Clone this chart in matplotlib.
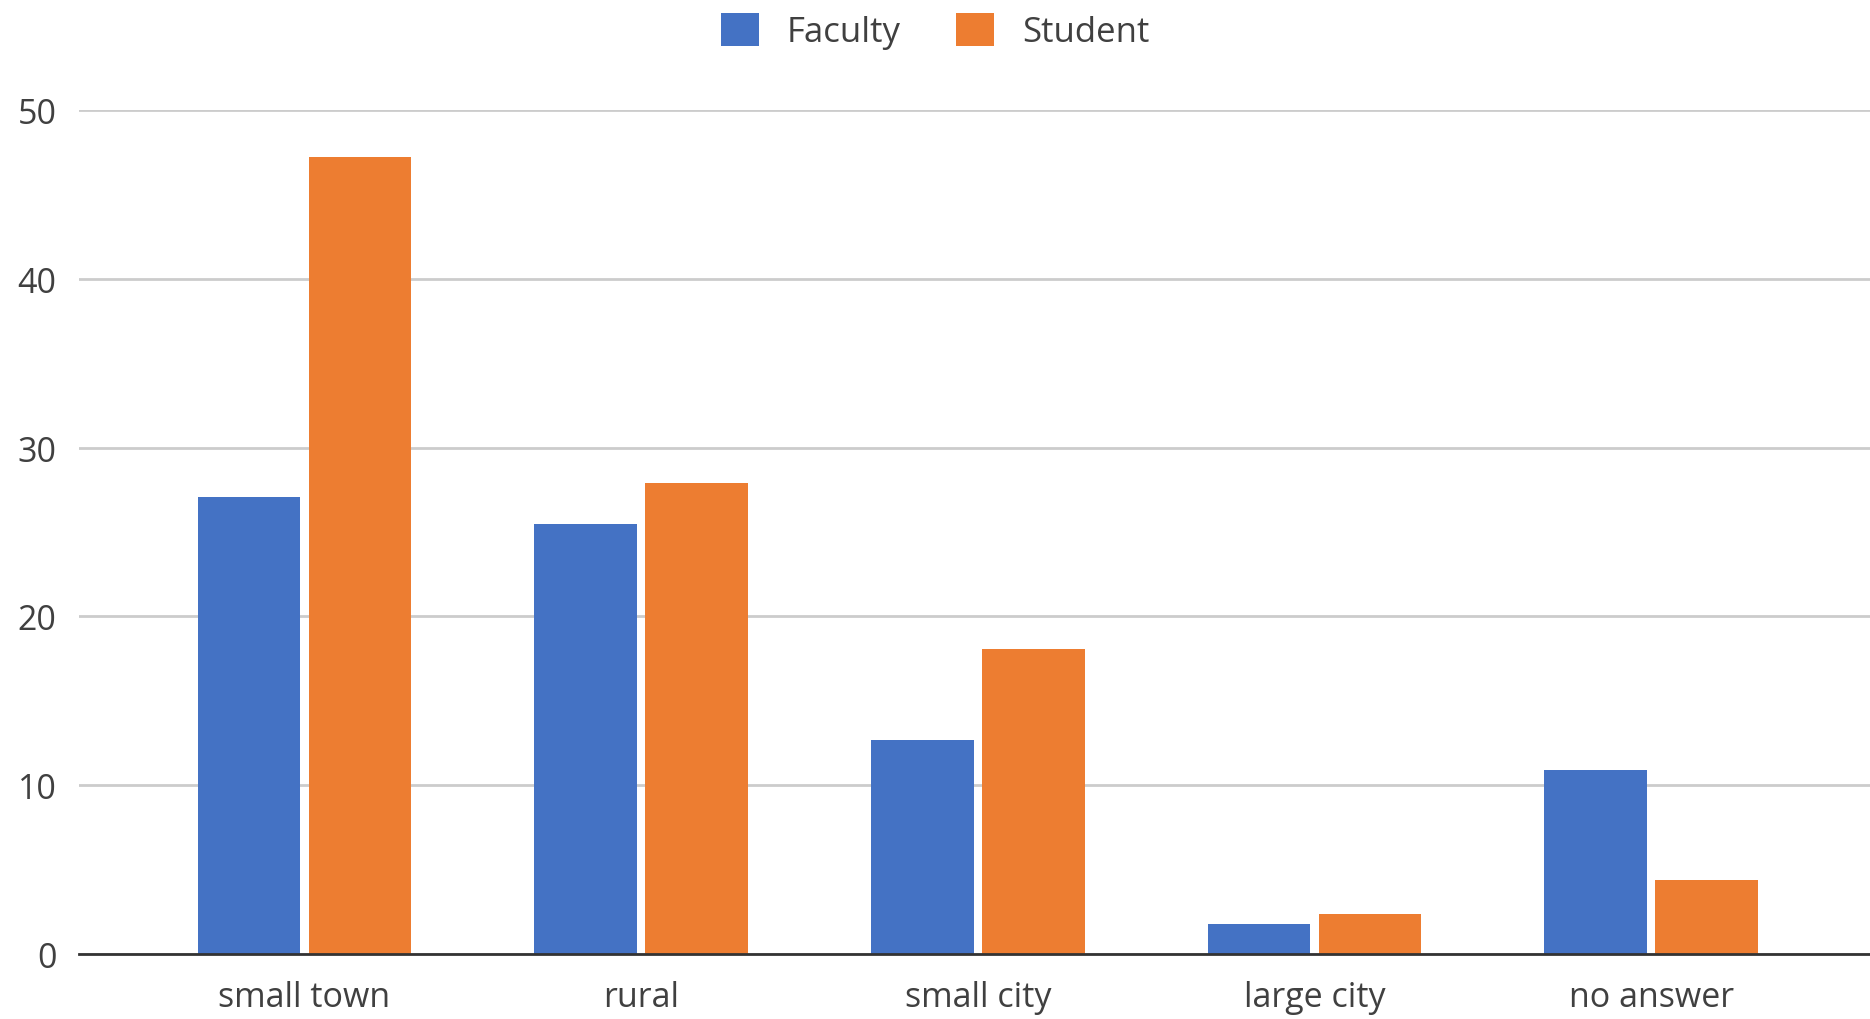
import matplotlib
matplotlib.use('Agg')
import matplotlib.pyplot as plt
import numpy as np

plt.rcParams['font.family'] = ['Open Sans', 'DejaVu Sans']

# data (percent of respondents)
categories = ['small town', 'rural', 'small city', 'large city', 'no answer']
faculty = [27.1, 25.5, 12.7, 1.8, 10.9]
student = [47.2, 27.9, 18.1, 2.4, 4.4]

blue = '#4472C4'
orange = '#ED7D31'
text_col = '#404040'

fig = plt.figure(figsize=(18.7, 10.2), dpi=100)
ax = fig.add_axes([0.0422, 0.0637, 0.9578, 0.8273])

x = np.arange(len(categories))
w = 0.305
ax.bar(x - 0.165, faculty, width=w, color=blue, label='Faculty', zorder=3)
ax.bar(x + 0.165, student, width=w, color=orange, label='Student', zorder=3)

ax.set_xlim(-0.67, 4.65)
ax.set_ylim(0, 50)
ax.set_yticks([0, 10, 20, 30, 40, 50])
ax.set_xticks(x)
ax.set_xticklabels(categories)

ax.grid(axis='y', color='#cccccc', linewidth=2, zorder=0)
ax.tick_params(axis='both', length=0, labelsize=24.5, labelcolor=text_col)
ax.tick_params(axis='y', pad=16)
ax.tick_params(axis='x', pad=19)

for s in ['top', 'right', 'left']:
    ax.spines[s].set_visible(False)
ax.spines['bottom'].set_color('#333333')
ax.spines['bottom'].set_linewidth(2)
ax.spines['bottom'].set_zorder(4)

leg = fig.legend(loc='upper center', bbox_to_anchor=(0.5, 1.017), ncol=2, frameon=False,
                 fontsize=25, handlelength=1.1, handleheight=1.1, handletextpad=0.8,
                 columnspacing=1.6)
for t in leg.get_texts():
    t.set_color(text_col)

fig.savefig('out.png', dpi=100)
